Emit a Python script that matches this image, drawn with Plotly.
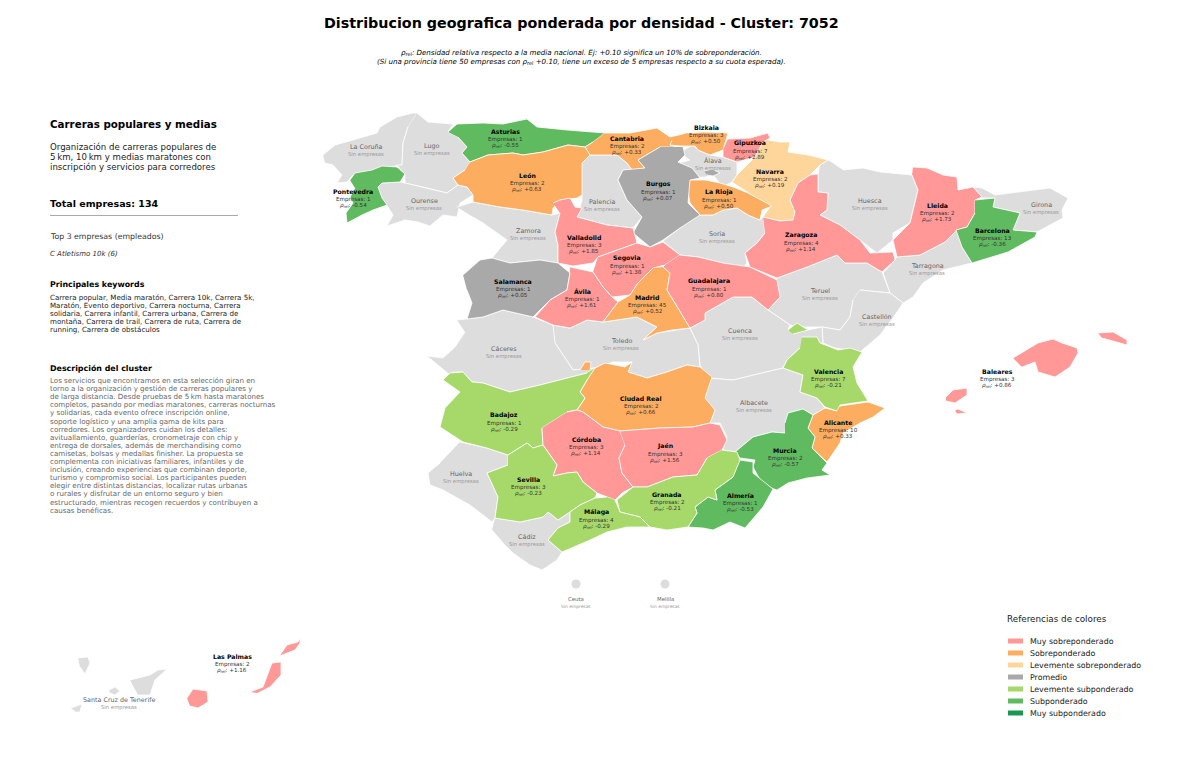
import plotly.graph_objects as go

# provinces with companies
provinces = ["Asturias", "Cantabria", "Bizkaia", "Gipuzkoa", "Navarra", "La Rioja", "Burgos", "León",
             "Valladolid", "Segovia", "Salamanca", "Ávila", "Madrid", "Guadalajara", "Zaragoza", "Lleida",
             "Barcelona", "Pontevedra", "Ciudad Real", "Valencia", "Alicante", "Murcia", "Almería", "Badajoz",
             "Córdoba", "Jaén", "Sevilla", "Granada", "Málaga", "Baleares", "Las Palmas"]
empresas = [1, 2, 3, 7, 2, 1, 1, 2, 3, 1, 1, 1, 45, 1, 4, 2, 13, 1, 2, 7, 10, 2, 1, 1, 3, 3, 3, 2, 4, 3, 2]
rho_rel = [-0.55, 0.33, 0.50, 2.89, 0.19, 0.50, 0.07, 0.63, 1.85, 1.38, 0.05, 1.61, 0.52, 0.80, 1.14, 1.73,
           -0.36, -0.54, 0.66, -0.21, 0.33, -0.57, -0.53, -0.29, 1.14, 1.56, -0.23, -0.21, -0.29, 0.86, 1.16]

# provinces without companies
empty_provinces = ["La Coruña", "Lugo", "Ourense", "Palencia", "Zamora", "Álava", "Soria", "Huesca", "Girona",
                   "Tarragona", "Teruel", "Castellón", "Cuenca", "Toledo", "Cáceres", "Albacete", "Huelva",
                   "Cádiz", "Ceuta", "Melilla", "Santa Cruz de Tenerife"]

categories = ["Muy sobreponderado", "Sobreponderado", "Levemente sobreponderado", "Promedio",
              "Levemente subponderado", "Subponderado", "Muy subponderado"]
category_colors = ["#ff9896", "#fdad5f", "#fed69b", "#a9a9a9", "#a6d96a", "#60ba60", "#1a9850"]
EMPTY_COLOR = "#dddddd"

keywords_lines = ["Carrera popular, Media maratón, Carrera 10k, Carrera 5k,",
                  "Maratón, Evento deportivo, Carrera nocturna, Carrera",
                  "solidaria, Carrera infantil, Carrera urbana, Carrera de",
                  "montaña, Carrera de trail, Carrera de ruta, Carrera de",
                  "running, Carrera de obstáculos"]
description_lines = ["Los servicios que encontramos en esta selección giran en",
                     "torno a la organización y gestión de carreras populares y",
                     "de larga distancia. Desde pruebas de 5\u2009km hasta maratones",
                     "completos, pasando por medias maratones, carreras nocturnas",
                     "y solidarias, cada evento ofrece inscripción online,",
                     "soporte logístico y una amplia gama de kits para",
                     "corredores. Los organizadores cuidan los detalles:",
                     "avituallamiento, guarderías, cronometraje con chip y",
                     "entrega de dorsales, además de merchandising como",
                     "camisetas, bolsas y medallas finisher. La propuesta se",
                     "complementa con iniciativas familiares, infantiles y de",
                     "inclusión, creando experiencias que combinan deporte,",
                     "turismo y compromiso social. Los participantes pueden",
                     "elegir entre distintas distancias, localizar rutas urbanas",
                     "o rurales y disfrutar de un entorno seguro y bien",
                     "estructurado, mientras recogen recuerdos y contribuyen a",
                     "causas benéficas."]
subtitle_lines = ["<i>ρ</i><sub>rel</sub><i>: Densidad relativa respecto a la media nacional. Ej: +0.10 significa un 10% de sobreponderación.</i>",
                  "<i>(Si una provincia tiene 50 empresas con </i><i>ρ</i><sub>rel</sub><i> +0.10, tiene un exceso de 5 empresas respecto a su cuota esperada).</i>"]

# province outlines, None starts another island / exclave
outlines = {
    "La Coruña": [(323,155),(335,145),(353,140),(377,133),(380,127),(397,117),(413,113),(417,113),(408,127),(403,143),(402,165),(382,168),(353,175),(347,182),(337,183),(342,175),(333,165),(325,163)],
    "Lugo": [(417,113),(428,122),(453,124),(448,132),(458,137),(467,147),(462,153),(470,162),(465,170),(453,178),(458,185),(447,193),(427,188),(405,183),(405,175),(397,165),(402,165),(403,143),(408,127)],
    "Asturias": [(448,132),(457,124),(483,123),(503,124),(527,119),(537,127),(567,130),(605,133),(593,142),(585,147),(568,145),(543,152),(523,155),(513,153),(488,155),(470,162),(462,153),(467,147),(458,137)],
    "Pontevedra": [(350,180),(355,173),(372,170),(382,166),(397,167),(405,174),(400,182),(382,183),(378,187),(382,198),(387,205),(373,210),(362,215),(347,223),(346,213),(353,203),(350,197),(355,188)],
    "Ourense": [(382,183),(400,182),(405,183),(427,188),(447,193),(458,185),(467,187),(473,195),(460,203),(457,217),(443,215),(430,226),(418,222),(405,220),(387,226),(393,215),(387,205),(382,198),(378,187)],
    "León": [(470,162),(488,155),(513,153),(523,155),(543,152),(568,145),(585,147),(590,155),(582,163),(582,195),(577,198),(560,200),(553,208),(552,215),(523,210),(500,207),(473,202),(473,195),(467,187),(458,185),(453,178),(465,170)],
    "Cantabria": [(605,133),(630,133),(657,128),(670,137),(687,133),(690,138),(670,145),(677,147),(660,147),(638,160),(645,168),(632,170),(627,163),(617,155),(597,155),(590,155),(585,147),(593,142)],
    "Bizkaia": [(687,133),(693,133),(703,132),(728,133),(723,150),(710,155),(698,150),(695,146),(680,146),(670,145),(672,140)],
    "Gipuzkoa": [(728,139),(750,138),(768,133),(770,138),(763,142),(755,157),(737,162),(723,157),(723,150)],
    "Navarra": [(768,140),(780,142),(790,142),(788,152),(808,155),(828,160),(820,165),(810,175),(798,183),(790,200),(795,212),(793,220),(780,221),(763,217),(770,207),(748,193),(732,182),(737,175),(755,157),(763,142)],
    "Álava": [(680,152),(693,145),(698,150),(710,155),(723,157),(737,162),(737,175),(732,182),(723,187),(713,175),(705,177),(693,178),(683,167),(672,165),(690,160)],
    "La Rioja": [(690,180),(705,180),(720,183),(733,187),(748,193),(772,206),(762,210),(760,220),(748,215),(737,208),(723,210),(713,215),(700,215),(690,203),(688,192)],
    "Burgos": [(683,147),(685,155),(678,162),(692,168),(700,178),(690,180),(688,203),(700,215),(680,228),(663,240),(650,247),(633,233),(642,217),(627,200),(618,180),(623,170),(645,168),(638,160),(660,147),None,(704,171),(712,169),(720,173),(713,176),(707,175)],
    "Palencia": [(582,163),(590,155),(597,155),(617,155),(627,163),(632,170),(623,170),(618,180),(627,200),(642,217),(633,228),(607,225),(577,217),(582,200),(582,195)],
    "Valladolid": [(553,203),(560,200),(570,198),(575,207),(582,208),(577,217),(607,225),(633,228),(637,243),(598,257),(593,263),(573,266),(558,263),(558,245),(555,232),(560,213)],
    "Zamora": [(457,207),(473,202),(500,207),(523,210),(552,215),(560,213),(555,232),(558,245),(558,263),(540,260),(510,263),(492,258),(507,240),(483,223),(473,217)],
    "Salamanca": [(463,275),(480,260),(492,258),(510,263),(540,260),(558,263),(570,273),(567,290),(550,300),(533,317),(503,310),(483,317),(467,319),(472,303),(467,290)],
    "Ávila": [(570,267),(593,272),(603,287),(612,297),(618,302),(603,322),(587,320),(570,328),(553,325),(535,317),(550,300),(567,290),(570,273)],
    "Segovia": [(598,257),(637,243),(650,247),(663,242),(680,255),(665,265),(653,268),(638,283),(630,295),(612,297),(603,287),(593,272)],
    "Madrid": [(663,267),(670,273),(667,290),(675,303),(690,328),(672,330),(657,333),(643,340),(657,327),(637,317),(603,322),(618,302),(630,295),(638,283),(653,268)],
    "Guadalajara": [(680,255),(698,257),(723,263),(750,267),(777,280),(780,297),(768,310),(752,297),(733,297),(705,313),(705,320),(698,324),(690,328),(675,303),(667,290),(670,273),(663,267),(665,265)],
    "Soria": [(700,215),(713,215),(723,210),(737,208),(748,215),(760,220),(763,217),(765,233),(757,243),(745,253),(747,263),(740,272),(723,263),(698,257),(680,255),(663,241),(680,228)],
    "Zaragoza": [(763,217),(780,221),(793,220),(795,212),(790,200),(798,183),(810,175),(818,174),(818,192),(828,193),(827,210),(820,215),(840,225),(860,240),(870,253),(893,252),(895,260),(882,272),(867,263),(845,263),(837,255),(807,267),(777,278),(750,267),(745,253),(757,243),(765,233)],
    "Huesca": [(828,160),(820,165),(818,174),(818,192),(828,193),(827,210),(820,215),(840,225),(860,240),(877,253),(893,240),(893,233),(910,223),(918,190),(912,175),(893,173),(880,172),(863,168),(843,170)],
    "Lleida": [(913,167),(927,168),(943,175),(957,177),(958,190),(973,187),(982,197),(975,200),(975,213),(967,227),(957,230),(945,242),(920,255),(897,257),(893,240),(910,223),(918,190),(912,175)],
    "Girona": [(973,187),(982,188),(995,195),(1020,192),(1050,188),(1068,198),(1062,210),(1063,218),(1037,232),(1013,230),(1018,217),(1020,213),(993,207),(995,198),(975,198),(982,197)],
    "Barcelona": [(975,200),(995,198),(993,207),(1020,213),(1018,218),(1013,230),(1037,232),(1035,237),(1008,252),(972,263),(962,247),(956,230),(967,227),(975,213)],
    "Tarragona": [(897,257),(920,255),(945,242),(957,230),(962,247),(972,263),(943,270),(923,283),(913,297),(903,303),(890,293),(883,273),(895,260)],
    "Teruel": [(777,278),(807,267),(837,255),(845,263),(867,263),(882,272),(890,293),(860,290),(853,300),(850,317),(840,330),(822,327),(800,327),(790,325),(768,310),(780,297)],
    "Castellón": [(860,290),(890,293),(903,303),(895,315),(880,335),(860,352),(848,350),(835,348),(823,343),(822,327),(840,330),(850,317),(853,300)],
    "Valencia": [(802,337),(817,337),(820,343),(838,350),(850,348),(862,352),(853,367),(857,383),(868,401),(840,405),(837,411),(825,407),(817,398),(800,392),(803,375),(783,368),(787,360),(800,348),None,(788,330),(797,323),(808,330),(793,334)],
    "Alicante": [(840,406),(868,402),(885,408),(873,417),(860,423),(843,433),(840,443),(827,462),(812,448),(815,437),(808,428),(813,415),(825,408),(837,411)],
    "Murcia": [(785,423),(788,413),(803,409),(813,415),(808,428),(815,437),(812,448),(827,463),(822,470),(830,475),(807,478),(788,483),(777,490),(763,485),(753,467),(755,460),(740,458),(735,452),(753,437),(772,432),(785,433)],
    "Almería": [(740,460),(753,462),(753,473),(773,489),(763,507),(745,528),(730,522),(713,530),(703,528),(688,527),(697,513),(695,507),(708,497),(717,500),(715,490),(733,477)],
    "Albacete": [(707,378),(733,380),(783,368),(803,375),(800,392),(817,398),(825,408),(813,415),(803,409),(788,413),(785,433),(772,432),(753,437),(735,452),(723,450),(727,437),(720,423),(710,423),(715,410),(703,398)],
    "Cuenca": [(705,320),(705,313),(733,297),(752,297),(768,310),(790,325),(788,330),(808,330),(822,327),(823,343),(800,348),(787,360),(783,368),(733,380),(707,378),(700,365),(698,345),(690,328),(698,324)],
    "Toledo": [(553,325),(570,328),(587,320),(603,322),(637,317),(657,327),(643,340),(657,333),(690,328),(698,345),(700,367),(687,365),(667,372),(647,378),(628,372),(632,362),(613,362),(595,368),(573,370),(555,343)],
    "Cáceres": [(457,320),(467,319),(483,317),(503,310),(533,317),(553,325),(555,343),(573,370),(595,368),(587,373),(560,380),(540,385),(510,392),(483,383),(472,382),(463,372),(453,372),(450,375),(427,356),(443,358),(455,347),(465,332)],
    "Badajoz": [(595,368),(587,380),(580,392),(585,398),(577,410),(567,412),(542,428),(543,445),(533,448),(527,443),(508,455),(487,448),(463,442),(440,427),(445,408),(460,392),(443,380),(450,373),(463,372),(472,382),(483,383),(510,392),(540,385),(560,380),(587,373)],
    "Ciudad Real": [(595,368),(605,363),(625,367),(632,362),(628,372),(647,378),(667,372),(687,365),(700,367),(712,377),(705,398),(715,410),(710,423),(693,427),(660,428),(620,431),(603,427),(583,412),(577,410),(585,398),(580,392),(587,380),None,(580,370),(585,362),(591,362),(590,370)],
    "Córdoba": [(567,412),(577,410),(583,412),(603,427),(620,431),(625,445),(619,458),(622,473),(633,487),(622,493),(615,500),(597,493),(583,482),(577,472),(567,473),(553,476),(557,465),(543,445),(542,428)],
    "Jaén": [(620,431),(660,428),(693,427),(710,423),(720,425),(727,440),(722,450),(707,458),(697,475),(673,477),(647,487),(633,487),(622,473),(619,458),(625,445)],
    "Granada": [(722,450),(737,452),(740,460),(733,477),(715,490),(717,500),(708,497),(695,507),(697,513),(688,527),(667,530),(650,527),(640,517),(620,512),(617,500),(633,487),(647,487),(673,477),(697,475),(707,458)],
    "Málaga": [(615,500),(620,512),(640,517),(650,527),(627,527),(607,532),(590,540),(562,552),(548,540),(558,528),(570,522),(570,512),(580,505),(595,498),(607,497)],
    "Sevilla": [(508,455),(527,443),(533,448),(543,445),(557,465),(553,476),(567,473),(577,472),(583,482),(597,493),(595,498),(580,505),(570,512),(558,520),(552,515),(548,512),(543,517),(520,522),(495,518),(498,497),(487,473),(508,465)],
    "Huelva": [(460,442),(487,448),(508,455),(508,465),(487,473),(498,497),(495,518),(492,522),(470,505),(443,490),(430,485),(428,473),(440,463)],
    "Cádiz": [(495,518),(520,522),(543,517),(548,512),(552,515),(558,520),(570,512),(570,522),(558,528),(548,540),(562,552),(557,560),(542,570),(530,565),(513,553),(503,543),(492,530)],
    "Baleares": [(1013,358),(1038,343),(1053,339),(1062,343),(1077,348),(1078,353),(1070,367),(1055,377),(1038,372),(1035,362),(1022,367),None,
                 (1098,333),(1113,332),(1127,340),(1127,345),(1113,341),(1102,338),None,
                 (946,397),(953,390),(967,388),(967,395),(955,403),(946,401),None,
                 (955,410),(958,409),(967,413),(957,414)],
    "Las Palmas": [(187,698),(193,689),(207,691),(208,702),(198,708),(190,706),None,
                   (250,692),(263,687),(272,663),(281,662),(281,675),(270,687),(258,693),None,
                   (280,655),(287,645),(298,642),(300,638),(300,643),(295,650),(282,655)],
    "Santa Cruz de Tenerife": [(130,680),(150,675),(158,670),(167,669),(155,680),(150,695),(138,695),None,
                               (109,690),(115,687),(120,691),(115,695),(110,693),None,
                               (78,658),(88,657),(90,663),(85,674),(80,667),None,
                               (71,708),(82,704),(80,712),(76,712)],
}

# where the labels sit
label_pos = {
    "Asturias": (505,131), "Cantabria": (627,138), "Bizkaia": (706,127), "Gipuzkoa": (750,143), "Navarra": (770,171),
    "La Rioja": (719,192), "Burgos": (658,184), "León": (527,175), "Valladolid": (584,237), "Segovia": (627,258),
    "Salamanca": (513,281), "Ávila": (582,291), "Madrid": (647,297), "Guadalajara": (709,281), "Zaragoza": (801,235),
    "Lleida": (937,205), "Barcelona": (992,230), "Pontevedra": (353,191), "Ciudad Real": (641,398), "Valencia": (828,371),
    "Alicante": (838,422), "Murcia": (785,450), "Almería": (740,495), "Badajoz": (504,415), "Córdoba": (586,439),
    "Jaén": (665,446), "Sevilla": (528,479), "Granada": (667,494), "Málaga": (596,512), "Baleares": (997,371),
    "Las Palmas": (232,656),
    "La Coruña": (366,147), "Lugo": (432,146), "Ourense": (424,201), "Palencia": (602,202), "Zamora": (528,231),
    "Álava": (713,161), "Soria": (717,234), "Huesca": (870,201), "Girona": (1041,205), "Tarragona": (927,266),
    "Teruel": (820,291), "Castellón": (877,317), "Cuenca": (740,331), "Toledo": (621,341), "Cáceres": (504,349),
    "Albacete": (754,403), "Huelva": (461,474), "Cádiz": (527,537), "Ceuta": (576,599), "Melilla": (665,599),
    "Santa Cruz de Tenerife": (119,700),
}


def category_of(rho):
    limits = [0.7, 0.25, 0.1, -0.1, -0.35, -0.6]
    for i, lim in enumerate(limits):
        if rho >= lim:
            return i
    return 6


fig = go.Figure()


def add_text(x, y, text, size, color="#000000", anchor="center"):
    fig.add_annotation(x=x, y=y, text=text, showarrow=False, xanchor=anchor, yanchor="middle",
                       borderpad=0, borderwidth=0,
                       font=dict(family="DejaVu Sans", size=size, color=color), align=anchor)


def add_province(name, color):
    xs = [p[0] if p else None for p in outlines[name]]
    ys = [p[1] if p else None for p in outlines[name]]
    fig.add_trace(go.Scatter(x=xs, y=ys, mode="lines", fill="toself", fillcolor=color, name=name,
                             line=dict(color="white", width=0.8), showlegend=False, hoverinfo="name"))


for name in empty_provinces:
    if name in outlines:
        add_province(name, EMPTY_COLOR)
for name, rho in zip(provinces, rho_rel):
    add_province(name, category_colors[category_of(rho)])

# Ceuta y Melilla are only dots
fig.add_trace(go.Scatter(x=[label_pos["Ceuta"][0], label_pos["Melilla"][0]], y=[584, 584], mode="markers",
                         marker=dict(size=9, color=EMPTY_COLOR), showlegend=False, hoverinfo="skip"))

for name, n, rho in zip(provinces, empresas, rho_rel):
    x, y = label_pos[name]
    add_text(x, y, f"<b>{name}</b>", 6.2)
    add_text(x, y + 8.5, f"Empresas: {n}", 5.6, "#333333")
    add_text(x, y + 14.5, f"<i>ρ</i><sub>rel</sub>: {rho:+.2f}", 5.6, "#333333")
for name in empty_provinces:
    x, y = label_pos[name]
    if name in ("Ceuta", "Melilla"):
        add_text(x, y, name, 5.4, "#666666")
        add_text(x, y + 7, "Sin empresas", 4.4, "#999999")
    else:
        add_text(x, y, name, 6.4, "#666666")
        add_text(x, y + 7.5, "Sin empresas", 5.3, "#999999")

# title block
add_text(581, 23, "<b>Distribucion geografica ponderada por densidad - Cluster: 7052</b>", 14.3)
add_text(581, 52, subtitle_lines[0], 7.1)
add_text(581, 61, subtitle_lines[1], 7.1)

# left panel
add_text(50, 124, "<b>Carreras populares y medias</b>", 10.3, anchor="left")
add_text(50, 147, "Organización de carreras populares de", 8.6, "#222222", "left")
add_text(50, 156.5, "5\u2009km, 10\u2009km y medias maratones con", 8.6, "#222222", "left")
add_text(50, 166.5, "inscripción y servicios para corredores", 8.6, "#222222", "left")
add_text(50, 203, "<b>Total empresas: 134</b>", 9.5, anchor="left")
fig.add_shape(type="line", x0=50, x1=238, y0=215.5, y1=215.5, line=dict(color="#aaaaaa", width=1))
add_text(50, 236, "Top 3 empresas (empleados)", 7.8, "#333333", "left")
add_text(50, 254, "<i>C Atletismo 10k (6)</i>", 7, "#333333", "left")
add_text(50, 284, "<b>Principales keywords</b>", 7.9, anchor="left")
for i, line in enumerate(keywords_lines):
    add_text(50, 297.5 + i * 8.1, line, 7.1, "#222222", "left")
add_text(50, 368, "<b>Descripción del cluster</b>", 7.9, anchor="left")
for i, line in enumerate(description_lines):
    add_text(50, 380.5 + i * 8.1, line, 7.1, "#666666", "left")

# colour references
add_text(1007, 619, "Referencias de colores", 8.8, "#222222", "left")
for i, (cat, col) in enumerate(zip(categories, category_colors)):
    y = 641 + i * 12
    fig.add_shape(type="rect", x0=1008, x1=1023, y0=y - 2.5, y1=y + 2.5, fillcolor=col, line=dict(width=0))
    add_text(1030, y, cat, 7.9, "#222222", "left")

fig.update_xaxes(visible=False, range=[0, 1200], fixedrange=True)
fig.update_yaxes(visible=False, range=[761, 0], fixedrange=True)
fig.update_layout(width=1200, height=761, margin=dict(l=0, r=0, t=0, b=0), plot_bgcolor="white",
                  paper_bgcolor="white", showlegend=False)

# browser default body margin would push everything 8px
fig.write_html("out.html", post_script="document.body.style.margin='0';", config={"displayModeBar": False})
